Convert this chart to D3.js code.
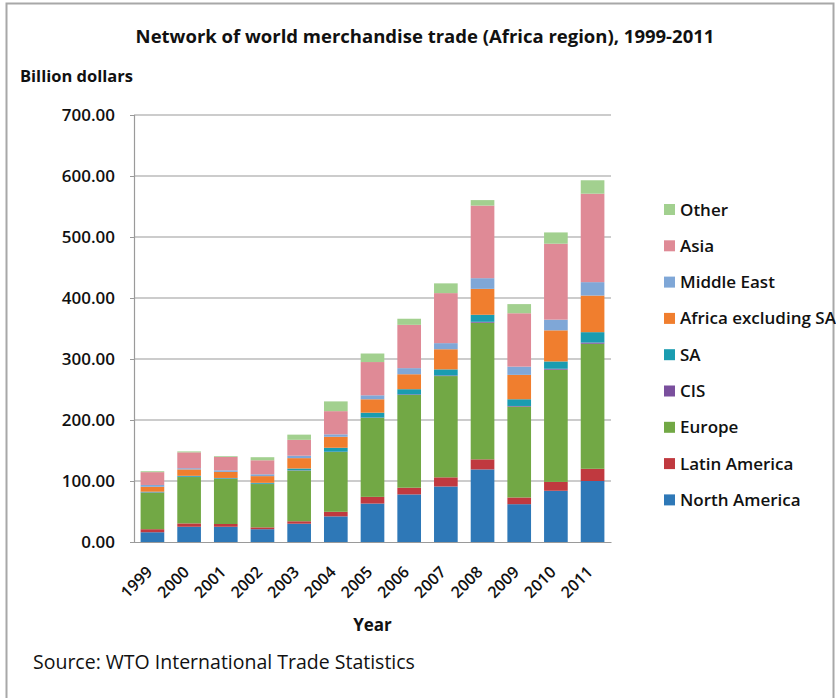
<!DOCTYPE html>
<html>
<head>
<meta charset="utf-8">
<script src="https://cdn.jsdelivr.net/npm/d3@7"></script>
<style>
  body { margin: 0; background: #fff; }
  text { font-family: "Open Sans", "Liberation Sans", sans-serif; fill: #111; }
</style>
</head>
<body>
<svg width="836" height="698"></svg>
<script>
var years = ["1999", "2000", "2001", "2002", "2003", "2004", "2005", "2006", "2007", "2008", "2009", "2010", "2011"];

// series, bottom to top (billion dollars)
var northAmerica = [16, 25, 25, 21, 30, 42, 63, 78, 91, 119, 62, 84, 100];
var latinAmerica = [5, 5.5, 4.5, 3, 4, 7.5, 11, 11, 15, 16.5, 11, 14.5, 20];
var europe = [60, 76, 74, 71, 83, 98, 129.5, 152, 166, 224, 149, 184, 205];
var cis = [0.5, 0.5, 0.5, 0.5, 0.5, 0.5, 0.5, 1, 1, 1.5, 1, 1.5, 2];
var sa = [1, 1.5, 1, 1.5, 3, 6.5, 8, 8.5, 10, 11.5, 11, 12, 17];
var africaExSA = [8, 10.5, 10, 11, 17, 18, 22, 24.5, 33, 42.5, 40, 51, 60];
var middleEast = [3, 2, 2.5, 3, 4, 4, 6.5, 10, 10, 17.5, 13.5, 17.5, 22];
var asia = [21, 26, 22, 23, 26, 38, 54.5, 71, 82, 119, 87.5, 124.5, 145];
var other = [1.5, 1.5, 1.2, 5, 8.5, 16, 14, 10, 16, 9, 15, 18.5, 22];

var seriesNames = ["North America", "Latin America", "Europe", "CIS", "SA", "Africa excluding SA", "Middle East", "Asia", "Other"];
var seriesValues = [northAmerica, latinAmerica, europe, cis, sa, africaExSA, middleEast, asia, other];
var colors = ["#2e78b7", "#c0393f", "#72a845", "#7a4f9d", "#1a9cb0", "#f07e2e", "#7fa7d7", "#df8a96", "#a2d08f"];
var yTicks = [0, 100, 200, 300, 400, 500, 600, 700];

var svg = d3.select("svg"),
  margin = { top: 115, left: 134, right: 225, bottom: 156 },
  width = +svg.attr("width") - margin.left - margin.right,
  height = +svg.attr("height") - margin.top - margin.bottom;

// outer frame
svg.append("rect")
  .attr("x", 6.5).attr("y", 3.5)
  .attr("width", 827).attr("height", 700)
  .attr("fill", "none").attr("stroke", "#a8a8a8").attr("stroke-width", 2);

var g = svg.append("g")
  .attr("transform", "translate(" + margin.left + "," + margin.top + ")");

var table = years.map(function(y, i) {
  var row = { year: y };
  seriesNames.forEach(function(n, j) { row[n] = seriesValues[j][i]; });
  return row;
});

var stacked = d3.stack().keys(seriesNames)(table);

var x = d3.scaleBand().domain(years).range([0, width]).paddingInner(0.355).paddingOuter(0.18);
var y = d3.scaleLinear().domain([0, 700]).range([height, 0]);

// gridlines
g.append("g")
  .selectAll("line")
  .data(yTicks.slice(1))
  .enter()
  .append("line")
  .attr("x1", 0).attr("x2", width)
  .attr("y1", function(d) { return y(d); })
  .attr("y2", function(d) { return y(d); })
  .attr("stroke", "#9a9a9a").attr("stroke-width", 1.2);

// y axis
var yAxis = g.append("g")
  .call(d3.axisLeft(y).tickValues(yTicks).tickSize(4).tickPadding(15).tickFormat(d3.format(".2f")));
yAxis.select(".domain").attr("stroke", "#9a9a9a").attr("stroke-width", 1.2);
yAxis.selectAll(".tick line").attr("stroke", "#9a9a9a");
yAxis.selectAll("text").style("font-size", "17px").style("font-weight", "600").attr("fill", "#1a1a1a");

// bars
g.selectAll(".series")
  .data(stacked)
  .enter()
  .append("g")
  .attr("fill", function(d, i) { return colors[i]; })
  .selectAll("rect")
  .data(function(d) { return d; })
  .enter()
  .append("rect")
  .attr("x", function(d) { return x(d.data.year); })
  .attr("y", function(d) { return y(d[1]); })
  .attr("width", x.bandwidth())
  .attr("height", function(d) { return y(d[0]) - y(d[1]); });

// x axis
var xAxis = g.append("g")
  .attr("transform", "translate(0," + height + ")")
  .call(d3.axisBottom(x).tickSize(0).tickPadding(8));
xAxis.select(".domain").attr("stroke", "#9a9a9a").attr("stroke-width", 1.2);
xAxis.selectAll("text")
  .style("font-size", "16px")
  .style("font-weight", "600")
  .attr("fill", "#1a1a1a")
  .attr("text-anchor", "end")
  .attr("dy", "0.3em")
  .attr("transform", "translate(-8,22) rotate(-45)");

// titles
svg.append("text")
  .attr("x", 425).attr("y", 43)
  .attr("text-anchor", "middle")
  .style("font-size", "18.5px").style("font-weight", "bold")
  .text("Network of world merchandise trade (Africa region), 1999-2011");

svg.append("text")
  .attr("x", 20).attr("y", 82)
  .style("font-size", "16.5px").style("font-weight", "bold")
  .text("Billion dollars");

svg.append("text")
  .attr("x", margin.left + width / 2).attr("y", 631)
  .attr("text-anchor", "middle")
  .style("font-size", "17px").style("font-weight", "bold")
  .text("Year");

svg.append("text")
  .attr("x", 33).attr("y", 669)
  .style("font-size", "19.5px")
  .style("font-weight", "500")
  .text("Source: WTO International Trade Statistics");

// legend (top to bottom: Other ... North America)
var legend = svg.append("g").attr("transform", "translate(664,204)");
var legendItems = legend.selectAll("g")
  .data(seriesNames.slice().reverse())
  .enter()
  .append("g")
  .attr("transform", function(d, i) { return "translate(0," + i * 36.3 + ")"; });
legendItems.append("rect")
  .attr("width", 11).attr("height", 11)
  .attr("fill", function(d) { return colors[seriesNames.indexOf(d)]; });
legendItems.append("text")
  .attr("x", 16).attr("y", 11.5)
  .style("font-size", "17px")
  .style("font-weight", "600")
  .text(function(d) { return d; });
</script>
</body>
</html>
